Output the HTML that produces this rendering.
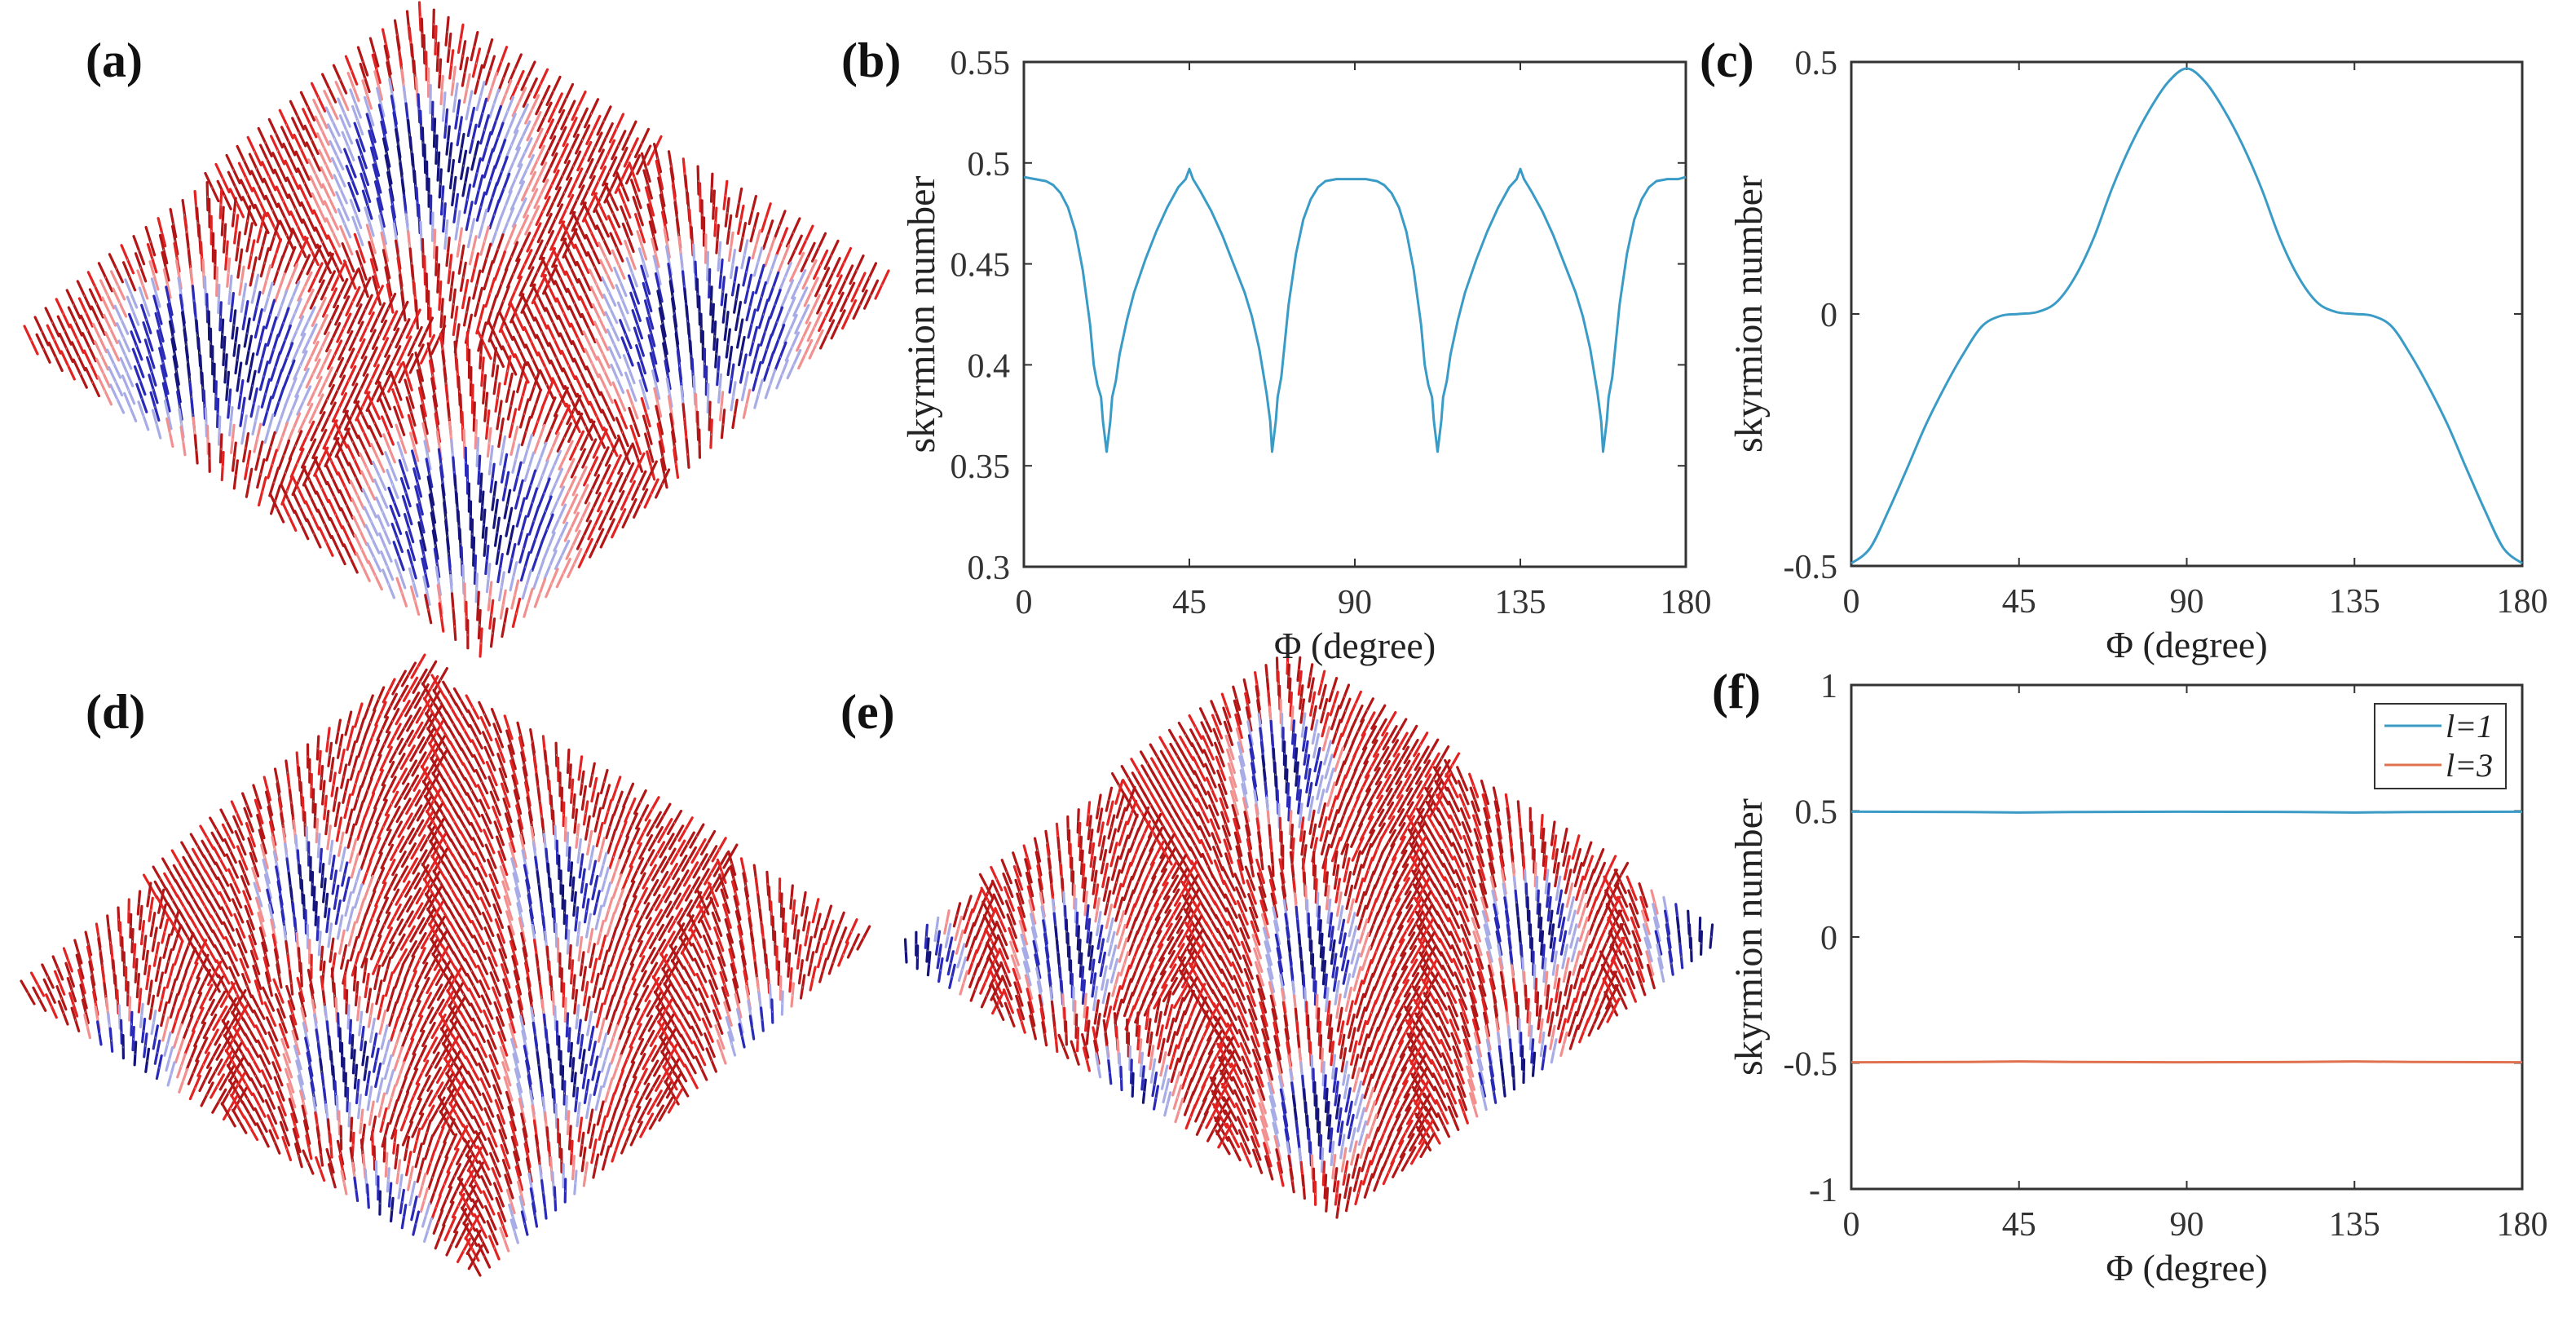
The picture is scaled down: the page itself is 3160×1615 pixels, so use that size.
<!DOCTYPE html>
<html><head><meta charset="utf-8"><style>
html,body{margin:0;padding:0;background:#fff;}
svg{display:block;}
text{font-family:"Liberation Serif",serif;}
</style></head><body>
<svg id="fig" width="3160" height="1615" viewBox="0 0 3160 1615" xmlns="http://www.w3.org/2000/svg">
<rect width="3160" height="1615" fill="#fff"/>
<g id="fields"></g>
<g id="charts"></g>
<text x="105" y="94" font-size="60" font-weight="bold" fill="#111">(a)</text>
<text x="1032" y="94" font-size="60" font-weight="bold" fill="#111">(b)</text>
<text x="2085" y="94" font-size="60" font-weight="bold" fill="#111">(c)</text>
<text x="105" y="893" font-size="60" font-weight="bold" fill="#111">(d)</text>
<text x="1031" y="893" font-size="60" font-weight="bold" fill="#111">(e)</text>
<text x="2100" y="868" font-size="60" font-weight="bold" fill="#111">(f)</text>
</svg>
<script>
// ---- chart data ----
const xTicks = [0,45,90,135,180];
const bTicks = [0.3,0.35,0.4,0.45,0.5,0.55];
const bTickLabels = ["0.3","0.35","0.4","0.45","0.5","0.55"];
const cTicks = [-0.5,0,0.5];
const cTickLabels = ["-0.5","0","0.5"];
const fTicks = [-1,-0.5,0,0.5,1];
const fTickLabels = ["-1","-0.5","0","0.5","1"];
const bX = [0,3,6,8,10,12,14,16,18,19,20,21,21.5,22.5,23.5,24,25,26,28,30,33,36,39,42,44,45,46,48,51,54,57,60,62,64,65,66,67,67.5,68.5,69,70,71,72,74,76,78,80,82,85,88,90,
 93,96,98,100,102,104,106,108,109,110,111,111.5,112.5,113.5,114,115,116,118,120,123,126,129,132,134,135,136,138,141,144,147,150,152,154,155,156,157,157.5,158.5,159,160,161,162,164,166,168,170,172,175,178,180];
const bY = [0.493,0.492,0.491,0.489,0.485,0.478,0.466,0.447,0.420,0.400,0.390,0.384,0.372,0.357,0.372,0.384,0.392,0.405,0.422,0.436,0.452,0.466,0.478,0.488,0.492,0.497,0.492,0.486,0.476,0.464,0.450,0.436,0.424,0.408,0.397,0.386,0.372,0.357,0.372,0.384,0.394,0.412,0.430,0.455,0.472,0.482,0.488,0.491,0.492,0.492,0.492,
 0.492,0.491,0.489,0.485,0.478,0.466,0.447,0.420,0.400,0.390,0.384,0.372,0.357,0.372,0.384,0.392,0.405,0.422,0.436,0.452,0.466,0.478,0.488,0.492,0.497,0.492,0.486,0.476,0.464,0.450,0.436,0.424,0.408,0.397,0.386,0.372,0.357,0.372,0.384,0.394,0.412,0.430,0.455,0.472,0.482,0.488,0.491,0.492,0.492,0.493];
const cX = [0,5,10,15,20,25,30,35,40,45,50,55,60,65,70,75,80,85,90,95,100,105,110,115,120,125,130,135,140,145,150,155,160,165,170,175,180];
const cY = [-0.495,-0.465,-0.39,-0.306,-0.22,-0.146,-0.08,-0.025,-0.004,0,0.004,0.023,0.073,0.15,0.25,0.335,0.405,0.46,0.487,0.46,0.405,0.335,0.25,0.15,0.073,0.023,0.004,0,-0.004,-0.025,-0.08,-0.146,-0.22,-0.306,-0.39,-0.465,-0.495];
const fX = [0,30,45,60,90,120,135,150,180];
const fL1 = [0.497,0.496,0.494,0.496,0.497,0.496,0.494,0.496,0.497];
const fL3 = [-0.497,-0.496,-0.494,-0.496,-0.497,-0.496,-0.494,-0.496,-0.497];

const NS="http://www.w3.org/2000/svg";
function mk(tag,attrs,parent){const e=document.createElementNS(NS,tag);for(const k in attrs)e.setAttribute(k,attrs[k]);parent.appendChild(e);return e;}
const charts=document.getElementById('charts');

function axes(name,L,R,T,B,ymin,ymax,yt,ytl){
  const g=mk('g',{},charts);
  
  
  const sx=v=>L+(v/180)*(R-L);
  const sy=v=>B-(v-ymin)/(ymax-ymin)*(B-T);
  const box=mk('rect',{x:L,y:T,width:R-L,height:B-T,fill:'none',stroke:'#333','stroke-width':3},g);
  
  
  xTicks.forEach(v=>{
    const x=sx(v);
    mk('line',{x1:x,y1:B,x2:x,y2:B-10,stroke:'#333','stroke-width':2},g);
    mk('line',{x1:x,y1:T,x2:x,y2:T+10,stroke:'#333','stroke-width':2},g);
    const t=mk('text',{x:x,y:B+57,'font-size':42,'text-anchor':'middle',fill:'#333'},g);
    t.textContent=String(v);
    
    
  });
  yt.forEach((v,i)=>{
    const y=sy(v);
    mk('line',{x1:L,y1:y,x2:L+10,y2:y,stroke:'#333','stroke-width':2},g);
    mk('line',{x1:R,y1:y,x2:R-10,y2:y,stroke:'#333','stroke-width':2},g);
    const t=mk('text',{x:L-17,y:y+15,'font-size':42,'text-anchor':'end',fill:'#333'},g);
    t.textContent=ytl[i];
    
    
  });
  const xl=mk('text',{x:(L+R)/2,y:B+112,'font-size':46,'text-anchor':'middle',fill:'#222'},g);
  xl.textContent='Φ (degree)';
  
  
  const yc=(T+B)/2, ylx=L-110;
  const yl=mk('text',{x:ylx,y:yc,'font-size':48,'text-anchor':'middle',fill:'#222',transform:`rotate(-90 ${ylx} ${yc})`},g);
  yl.textContent='skyrmion number';
  
  
  return {g,sx,sy};
}
function line(ax,xs,ys,color,name,smooth){
  let pts=xs.map((x,i)=>[ax.sx(x),ax.sy(ys[i])]);
  let d='M'+pts[0][0].toFixed(1)+','+pts[0][1].toFixed(1);
  for(let i=1;i<pts.length;i++){
    if(smooth){
      const p0=pts[Math.max(0,i-2)],p1=pts[i-1],p2=pts[i],p3=pts[Math.min(pts.length-1,i+1)];
      const c1=[p1[0]+(p2[0]-p0[0])/6,p1[1]+(p2[1]-p0[1])/6];
      const c2=[p2[0]-(p3[0]-p1[0])/6,p2[1]-(p3[1]-p1[1])/6];
      d+=`C${c1[0].toFixed(1)},${c1[1].toFixed(1)} ${c2[0].toFixed(1)},${c2[1].toFixed(1)} ${p2[0].toFixed(1)},${p2[1].toFixed(1)}`;
    } else d+='L'+pts[i][0].toFixed(1)+','+pts[i][1].toFixed(1);
  }
  const p=mk('path',{d:d,fill:'none',stroke:color,'stroke-width':3,'stroke-linejoin':'round'},ax.g);
  
  
}
const axB=axes('chart-b',1256,2068,76,695,0.3,0.55,bTicks,bTickLabels);
line(axB,bX,bY,'#3a9cc6','series-b',false);
const axC=axes('chart-c',2271,3094,76,694,-0.5,0.5,cTicks,cTickLabels);
line(axC,cX,cY,'#3a9cc6','series-c',true);
const axF=axes('chart-f',2271,3094,840,1458,-1,1,fTicks,fTickLabels);
line(axF,fX,fL1,'#3a9cc6','series-l1',false);
line(axF,fX,fL3,'#e0714f','series-l3',false);
const lg=mk('g',{},axF.g);


mk('rect',{x:2913,y:863,width:161,height:104,fill:'#fff',stroke:'#333','stroke-width':2},lg);
mk('line',{x1:2925,y1:890,x2:2995,y2:890,stroke:'#3a9cc6','stroke-width':3},lg);
mk('line',{x1:2925,y1:938,x2:2995,y2:938,stroke:'#e0714f','stroke-width':3},lg);
const lt1=mk('text',{x:3000,y:904,'font-size':40,'font-style':'italic',fill:'#222'},lg);
lt1.textContent='l=1';


const lt3=mk('text',{x:3000,y:952,'font-size':40,'font-style':'italic',fill:'#222'},lg);
lt3.textContent='l=3';



// ---- spin texture fields (illustrations) ----
const fields=document.getElementById('fields');
function field(name,top,left,right,bottom,blobs,n,rx,ry,len,p){
  const g=mk('g',{'stroke-linecap':'round'},fields);
  
  
  for(let i=0;i<=n;i++)for(let j=0;j<=n;j++){
    const u=i/n,v=j/n;
    const x=(1-u)*(1-v)*top[0]+u*(1-v)*right[0]+(1-u)*v*left[0]+u*v*bottom[0];
    const y=(1-u)*(1-v)*top[1]+u*(1-v)*right[1]+(1-u)*v*left[1]+u*v*bottom[1];
    let best=1e9,bc=null;
    blobs.forEach(b=>{const d=Math.pow(Math.pow(Math.abs(x-b[0])/rx,p)+Math.pow(Math.abs(y-b[1])/ry,p),1/p);if(d<best){best=d;bc=b;}});
    let col;
    if(best<0.75)col=(best<0.45)?'#14147a':'#2a2ab8';
    else if(best<0.95)col='#a8ace6';
    else if(best<1.1)col='#f29090';
    else col=((i+j)%3==0)?'#e32222':'#b31616';
    const tilt=bc?Math.max(-16,Math.min(16,(x-bc[0])*0.15)):0;
    mk('line',{x1:x.toFixed(1),y1:y.toFixed(1),x2:(x+tilt).toFixed(1),y2:(y-len).toFixed(1),stroke:col,'stroke-width':3.2},g);
    mk('line',{x1:(x+tilt*0.5).toFixed(1),y1:(y-len*0.5).toFixed(1),x2:(x+tilt*0.5).toFixed(1),y2:(y-len*0.45).toFixed(1),stroke:'#fff','stroke-width':1,'stroke-opacity':0.4},g);
  }
}
field('vector-field-a',[516,37],[46,434],[1074,366],[589,805],
  [[526,220],[260,455],[863,418],[575,654]],36,120,95,34,4);
field('vector-field-d',[505,831],[42,1231],[1052,1164],[589,1564],
  [[379,1107],[687,1107],[421,1320],[687,1320],[154,1320],[954,1299],[463,1517],[690,1517]],40,62,70,28,2);
field('vector-field-e',[1579,826],[1112,1180],[2098,1162],[1640,1493],
  [[1573,958],[1315,1184],[1609,1184],[1879,1153],[1615,1380],[1383,1370],[1866,1339],[2081,1164],[1122,1200]],40,60,66,28,2);
</script>
</body></html>
